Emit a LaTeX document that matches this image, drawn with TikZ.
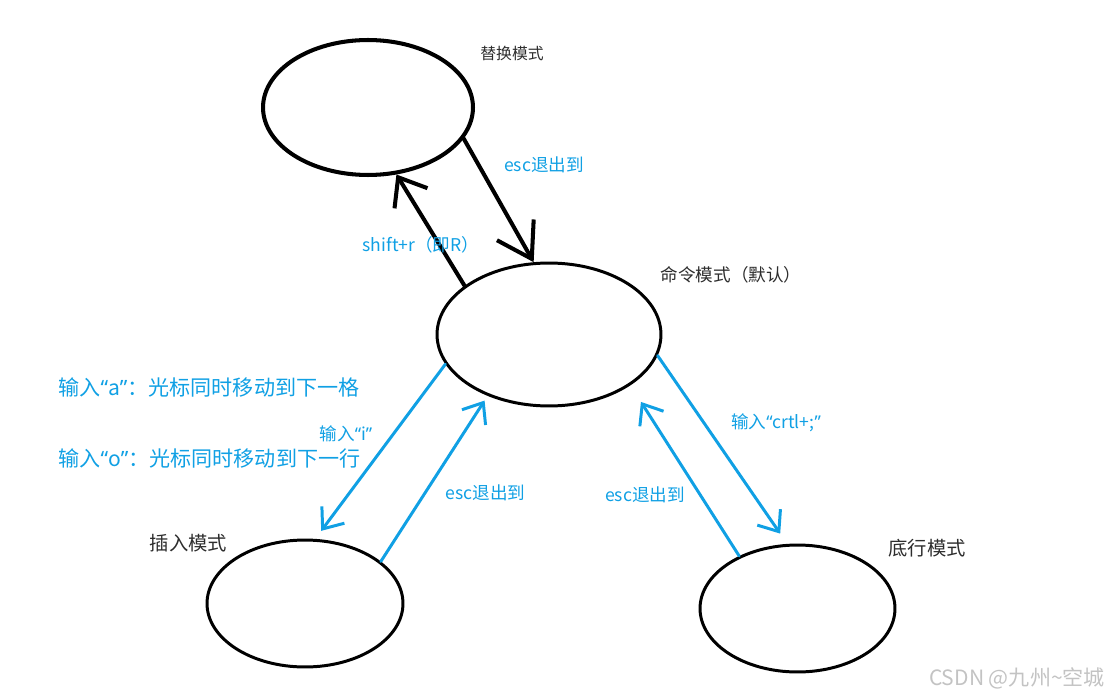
\documentclass[tikz,border=0pt]{standalone}
\usepackage{fontspec}
\setmainfont{Noto Sans CJK SC}
\newfontfamily\quotefont{Noto Sans}
\usepackage{tikz}
\usetikzlibrary{positioning, arrows.meta, shapes.geometric}
\usepackage{xcolor}
\definecolor{sky}{RGB}{16,160,228}
\definecolor{ink}{RGB}{45,45,45}
\definecolor{wmgray}{RGB}{195,195,195}
\newcommand{\qtl}{{\quotefont “}}
\newcommand{\qtr}{{\quotefont ”}}

\begin{document}
\begin{tikzpicture}[
    x=0.02cm, y=-0.02cm,
    mode/.style={draw, ellipse, line width=1.7pt, inner sep=0pt},
    tag/.style={text=ink, font=\fontsize{11}{13}\selectfont, inner sep=0pt},
    note/.style={text=sky, font=\fontsize{10}{12}\selectfont, inner sep=0pt},
    arr/.style={-{Straight Barb[length=14pt, width=22pt]}, line width=2.3pt, line cap=round},
    barr/.style={-{Straight Barb[length=10pt, width=16pt]}, line width=1.7pt, draw=sky, line cap=round},
]
\useasboundingbox (0,0) rectangle (1115,699);

% Modes
\node[mode, line width=2.3pt, minimum width=4.2cm, minimum height=2.7cm] (replace) at (368,107.5) {};
\node[mode, minimum width=4.48cm, minimum height=2.86cm] (command) at (549,334.5) {};
\node[mode, minimum width=3.92cm, minimum height=2.54cm] (insert) at (305,603.5) {};
\node[mode, minimum width=3.9cm, minimum height=2.54cm] (lastline) at (797.5,608.5) {};

% Mode names
\node[tag, font=\fontsize{9}{11}\selectfont] (replacelbl) at (512,53) {替换模式};
\node[tag, font=\fontsize{10}{12}\selectfont] (commandlbl) at (731,275) {命令模式（默认）};
\node[tag] (insertlbl) at (188.5,543) {插入模式};
\node[tag] (lastlinelbl) at (927,548) {底行模式};

% Replace <-> command
\draw[arr] (command.150.5) -- (replace.293.8);
\draw[arr, -{Straight Barb[length=19pt, width=24pt]}] (replace.342.8) -- (command.102.6);
\node[note] (escup) at (544,165) {esc退出到};
\node[note] (shiftr) at (421,245) {shift+r（即R）};

% Insert <-> command
\draw[barr, shorten >=5.7pt] (command.196) -- (insert.81.9);
\draw[barr, shorten >=3.2pt] (insert.29.6) -- (command.225.9);
\node[note] (typei) at (346,434) {输入\qtl{}i\qtr{}};
\node[note] (escleft) at (485.5,493) {esc退出到};
\node[note, font=\fontsize{12}{14}\selectfont, anchor=west] (typea) at (58,387) {输入\qtl{}a\qtr{}：光标同时移动到下一格};
\node[note, font=\fontsize{12}{14}\selectfont, anchor=west] (typeo) at (58,458) {输入\qtl{}o\qtr{}：光标同时移动到下一行};

% Last line <-> command
\draw[barr, shorten >=7.1pt] (command.349.8) -- (lastline.99.4);
\draw[barr, shorten >=11.2pt] (lastline.138.7) -- (command.328.2);
\node[note] (typecrtl) at (776,423) {输入\qtl{}crtl+;\qtr{}};
\node[note] (escright) at (645,495) {esc退出到};

% Watermark
\node[text=wmgray, font=\fontsize{12}{14}\selectfont, inner sep=0pt] (csdn) at (1017,678) {CSDN @九州\textasciitilde{}空城};
\end{tikzpicture}
\end{document}
